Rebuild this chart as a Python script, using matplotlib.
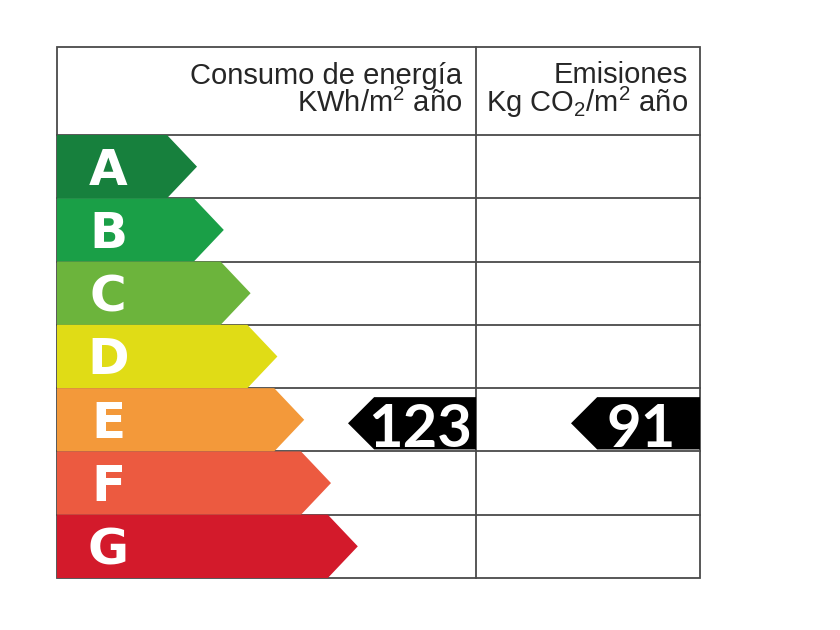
import matplotlib
matplotlib.use("Agg")
import matplotlib.pyplot as plt
from matplotlib.patches import Polygon, Rectangle

# ---- data ----
ratings = ["A", "B", "C", "D", "E", "F", "G"]
rating_colors = ["#17803d", "#1a9f47", "#6cb43c", "#e0dc16", "#f3993a", "#ec5a40", "#d31a2b"]
energy_header = ["Consumo de energía", "KWh/m$^2$ año"]
emission_header = ["Emisiones", "Kg CO$_2$/m$^2$ año"]
energy_value = 123
energy_rating = "E"
emission_value = 91
emission_rating = "E"

plt.rcParams["mathtext.fontset"] = "custom"
plt.rcParams["mathtext.rm"] = "Liberation Sans"
plt.rcParams["mathtext.default"] = "regular"

# ---- layout (pixel units) ----
W, H = 840, 630
left, right, top, bottom = 57, 700, 47, 578
divider = 476
header_bottom = 135
row_h = (bottom - header_bottom) / len(ratings)
first_tip, tip_step, tri_depth = 197, 26.8, 30
line_col = "#4a4a4a"
lw = 1.3

fig = plt.figure(figsize=(W / 100, H / 100), dpi=100)
ax = fig.add_axes([0, 0, 1, 1])
ax.set_xlim(0, W)
ax.set_ylim(H, 0)
ax.axis("off")

# grid lines
ax.add_patch(Rectangle((left, top), right - left, bottom - top, fill=False,
                       edgecolor=line_col, lw=lw, zorder=1))
ax.plot([divider, divider], [top, bottom], color=line_col, lw=lw, zorder=1)
for i in range(len(ratings)):
    y = header_bottom + i * row_h
    ax.plot([left, right], [y, y], color=line_col, lw=lw, zorder=1)

# rating arrows
for i, (r, c) in enumerate(zip(ratings, rating_colors)):
    y0 = header_bottom + i * row_h
    y1 = y0 + row_h
    ym = (y0 + y1) / 2
    tip = first_tip + i * tip_step
    body = tip - tri_depth
    poly = Polygon([(left, y0), (body, y0), (tip, ym), (body, y1), (left, y1)],
                   closed=True, facecolor=c, edgecolor="none", zorder=2)
    ax.add_patch(poly)
    ax.text(108, ym + 18, r, color="white", fontsize=36, family="DejaVu Sans",
            fontweight="bold", ha="center", va="baseline", zorder=3)

# header texts (two lines each, right aligned)
hdr_kw = dict(fontsize=21, family="Liberation Sans", color="#262626",
              ha="right", va="baseline", multialignment="right")
ax.text(462, 112, "\n".join(energy_header), linespacing=0.93, **hdr_kw)
ax.text(688, 112, "\n".join(emission_header), linespacing=0.84, **hdr_kw)

# value arrows
def value_arrow(rating, value, x_right, x_tip, text_x):
    i = ratings.index(rating)
    y0 = header_bottom + i * row_h
    t, b = y0 + 9, y0 + row_h - 2
    m = (t + b) / 2
    body = x_tip + (b - t) / 2
    poly = Polygon([(x_right, t), (body, t), (x_tip, m), (body, b), (x_right, b)],
                   closed=True, facecolor="black", edgecolor="none", zorder=4)
    ax.add_patch(poly)
    ax.text(text_x, b - 2, str(value), color="white", fontsize=43, family="Lato",
            fontweight="bold", ha="center", va="baseline", zorder=5)

value_arrow(energy_rating, energy_value, divider, 348, 420)
value_arrow(emission_rating, emission_value, right, 571, 641)

fig.savefig("out.png", dpi=100, facecolor="white")
